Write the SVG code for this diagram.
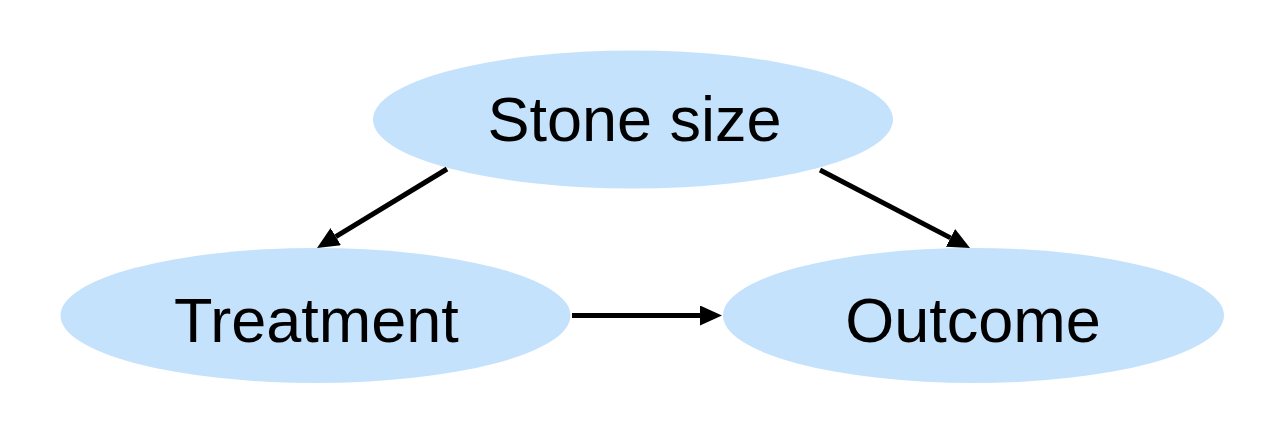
<svg xmlns="http://www.w3.org/2000/svg" width="1266" height="428" viewBox="0 0 1266 428">
<style>
.node{fill:#C5E2FC;}
.lbl{font-family:"Liberation Sans",Arial,Helvetica,sans-serif;font-size:63px;fill:#000;text-anchor:middle;}
.edge{stroke:#000;stroke-width:5;fill:none;marker-end:url(#ah);}
</style>
<defs>
<marker id="ah" viewBox="0 0 22 20" refX="0" refY="10" markerUnits="userSpaceOnUse" markerWidth="22" markerHeight="20" orient="auto">
<path d="M0,0 L22,10 L0,20 z" fill="#000"/>
</marker>
</defs>
<rect width="1266" height="428" fill="#fff"/>
<g id="stone-size">
<ellipse class="node" cx="633" cy="119.5" rx="260" ry="69"/>
<text class="lbl" x="634.5" y="141">Stone size</text>
</g>
<g id="treatment">
<ellipse class="node" cx="315.5" cy="315.5" rx="255" ry="67.5"/>
<text class="lbl" x="316.5" y="342">Treatment</text>
</g>
<g id="outcome">
<ellipse class="node" cx="973.5" cy="315.5" rx="250.5" ry="67.5"/>
<text class="lbl" x="973" y="342">Outcome</text>
</g>
<g id="connectors">
<line class="edge" x1="447" y1="169" x2="335.8" y2="236.6"/>
<line class="edge" x1="820" y1="170" x2="950.5" y2="237.9"/>
<line class="edge" x1="572" y1="315.5" x2="700" y2="315.5"/>
</g>
</svg>
